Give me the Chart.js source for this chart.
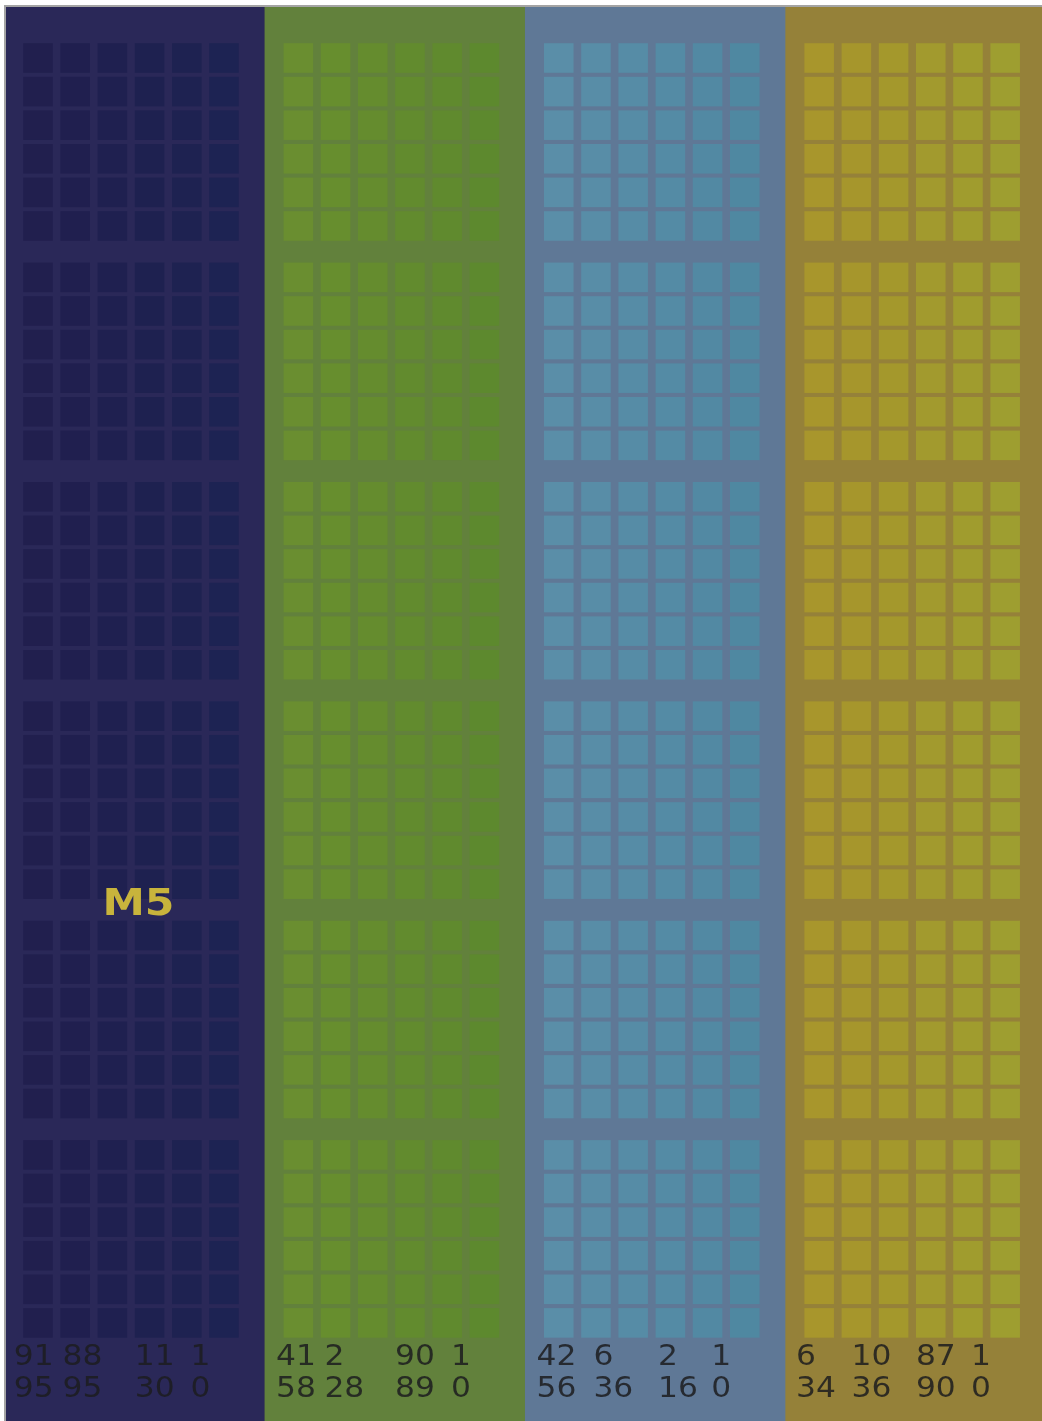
<!DOCTYPE html>
<html>
<head>
<meta charset="utf-8">
<title>M5</title>
<script src="https://cdn.jsdelivr.net/npm/chart.js@4.4.1/dist/chart.umd.min.js"></script>
<style>
    html, body { margin: 0; padding: 0; background: #ffffff; overflow: hidden; }
    #frame {
        position: absolute; left: 4px; top: 5px;
        width: 1036px; height: 1414px;
        border-left: 2px solid #a4a4a4; border-top: 2px solid #a4a4a4;
    }
    canvas { display: block; }
</style>
</head>
<body>
<div id="frame"><canvas id="dieChart"></canvas></div>
<script>
// Values
const groupNames = ['navy', 'green', 'blue', 'gold'];
const bandColors = ['#2a2858', '#62813c', '#5f7896', '#958139'];
const cellShades = [
    ['#211f4e', '#201f4f', '#1f2050', '#1e2150', '#1e2251', '#1d2353'],
    ['#6a8e30', '#678e2e', '#658c2e', '#628b2e', '#608a2e', '#5d892e'],
    ['#5a8ea8', '#588da7', '#568ca6', '#548ba5', '#5289a3', '#4f88a1'],
    ['#a8962c', '#a6962c', '#a4982c', '#a29a2e', '#a09c2e', '#9e9e30']
];
const blocksPerGroup = 6;
const cellCols = 6;
const cellRows = 6;
const chipLabel = 'M5';
const topValues = [[91, 88, 11, 1], [41, 2, 90, 1], [42, 6, 2, 1], [6, 10, 87, 1]];
const bottomValues = [[95, 95, 30, 0], [58, 28, 89, 0], [56, 36, 16, 0], [34, 36, 90, 0]];

// Layout, in scale units (1 unit = one cell pitch)
const GROUP_PITCH = 7;
const BLOCK_PITCH = 6.53;
const BAND_CENTER = 2.6;
const labelCols = [
    [-0.65, 0.66, 2.6, 4.1],
    [-0.6, 0.7, 2.6, 4.1],
    [-0.6, 0.93, 2.67, 4.1],
    [-0.62, 0.87, 2.6, 4.08]
];
const labelRows = [38.9, 39.85];
const chipLabelPos = { x: 2.7, y: 25.22 };

// Background bands, one floating bar per group
const bandDataset = {
    type: 'bar',
    label: 'bands',
    data: bandColors.map((c, g) => ({ x: g * GROUP_PITCH + BAND_CENTER, y: [-10, 50] })),
    backgroundColor: bandColors,
    borderWidth: 0,
    barPercentage: 1,
    categoryPercentage: 1,
    order: 10
};

// Cell grid for each group
const cellDatasets = groupNames.map((name, g) => {
    const pts = [];
    for (let b = 0; b < blocksPerGroup; b++) {
        for (let r = 0; r < cellRows; r++) {
            for (let c = 0; c < cellCols; c++) {
                pts.push({ x: g * GROUP_PITCH + c, y: b * BLOCK_PITCH + r });
            }
        }
    }
    return {
        type: 'scatter',
        label: name + ' cells',
        data: pts,
        pointStyle: 'rect',
        pointRadius: 20.9,
        pointBorderWidth: 0,
        pointBackgroundColor: ctx => cellShades[g][(ctx.dataIndex || 0) % cellCols],
        order: 0
    };
});

// Text drawn on top: number rows and chip name
const labelPlugin = {
    id: 'dieLabels',
    afterDatasetsDraw(chart) {
        const { ctx, scales: { x, y } } = chart;
        ctx.save();
        ctx.font = '29px "DejaVu Sans"';
        ctx.fillStyle = 'rgba(28, 28, 30, 0.85)';
        ctx.textAlign = 'left';
        ctx.textBaseline = 'alphabetic';
        [topValues, bottomValues].forEach((rowVals, r) => {
            rowVals.forEach((vals, g) => {
                vals.forEach((val, k) => {
                    const px = x.getPixelForValue(g * GROUP_PITCH + labelCols[g][k]);
                    const py = y.getPixelForValue(labelRows[r]);
                    // digits in the picture are a little wider than the font
                    ctx.save();
                    ctx.translate(px, py);
                    ctx.scale(1.08, 1);
                    ctx.fillText(String(val), 0, 0);
                    ctx.restore();
                });
            });
        });

        ctx.translate(x.getPixelForValue(chipLabelPos.x), y.getPixelForValue(chipLabelPos.y));
        ctx.scale(1.15, 1);
        ctx.font = 'bold 37px "DejaVu Sans"';
        ctx.fillStyle = '#c8b43c';
        ctx.textAlign = 'center';
        ctx.textBaseline = 'middle';
        ctx.fillText(chipLabel, 0, 0);
        ctx.restore();
    }
};

const ctx = document.getElementById('dieChart').getContext('2d');
const dieChart = new Chart(ctx, {
    type: 'bar',
    data: {
        datasets: [bandDataset, ...cellDatasets]
    },
    options: {
        responsive: true,
        maintainAspectRatio: false,
        animation: false,
        events: [],
        layout: { padding: 0, autoPadding: false },
        plugins: {
            legend: { display: false },
            tooltip: { enabled: false }
        },
        scales: {
            x: {
                type: 'linear',
                display: false,
                offset: false,
                min: -0.86,
                max: 26.99,
                ticks: { count: 2 },
                grid: { display: false }
            },
            y: {
                type: 'linear',
                display: false,
                reverse: true,
                min: -1.518,
                max: 40.57,
                ticks: { count: 2 },
                grid: { display: false }
            }
        }
    },
    plugins: [labelPlugin]
});
</script>
</body>
</html>
